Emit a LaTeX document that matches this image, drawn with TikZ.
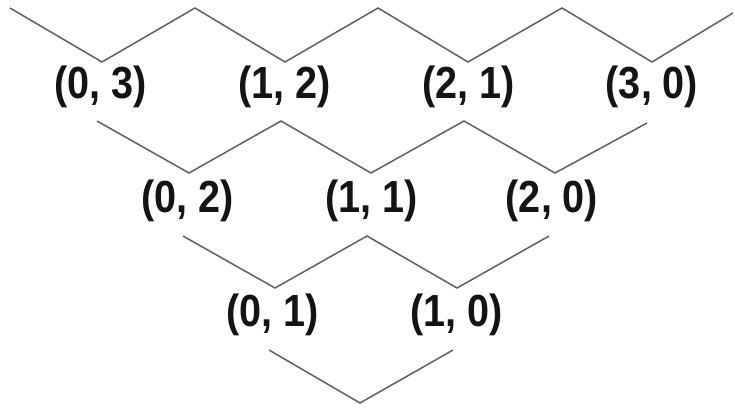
\documentclass[tikz,border=0pt]{standalone}
\usepackage{fontspec}
\setmainfont{Liberation Sans}
\newfontfamily\labfont{Liberation Sans}[FakeStretch=0.88]
\begin{document}
\begin{tikzpicture}[x=1pt,y=-1pt,
  lab/.style={inner sep=0pt, font=\labfont\bfseries\fontsize{45}{50}\selectfont, text={rgb,255:red,20;green,20;blue,20}},
  edge/.style={draw={rgb,255:red,95;green,95;blue,95}, line width=1.5pt, line join=miter}]
\useasboundingbox (0,0) rectangle (735,407);
% labels
\node[lab] (n03) at (101,87) {(0, 3)};
\node[lab] (n12) at (285,87) {(1, 2)};
\node[lab] (n21) at (469,87) {(2, 1)};
\node[lab] (n30) at (652,87) {(3, 0)};
\node[lab] (n02) at (188,201) {(0, 2)};
\node[lab] (n11) at (372,201) {(1, 1)};
\node[lab] (n20) at (552,201) {(2, 0)};
\node[lab] (n01) at (273,315) {(0, 1)};
\node[lab] (n10) at (457,315) {(1, 0)};
% free top ends
\coordinate (p0) at (10,8);
\coordinate (p1) at (195,8);
\coordinate (p2) at (378,8);
\coordinate (p3) at (562,8);
\coordinate (p4) at (733,13);
% points above labels
\coordinate (a03) at (102,62);
\coordinate (a12) at (285,62);
\coordinate (a21) at (468,62);
\coordinate (a30) at (652,62);
\coordinate (a02) at (189,173);
\coordinate (a11) at (371,173);
\coordinate (a20) at (555,173);
\coordinate (a01) at (275,288);
\coordinate (a10) at (457,288);
\coordinate (a00) at (360,403);
% points below labels
\coordinate (b03) at (97,121);
\coordinate (b12) at (281,121);
\coordinate (b21) at (464,121);
\coordinate (b30) at (647,123);
\coordinate (b02) at (183,236);
\coordinate (b11) at (367,236);
\coordinate (b20) at (549,236);
\coordinate (b01) at (269,350);
\coordinate (b10) at (453,350);
% connectors
\draw[edge] (p0) -- (a03) -- (p1) -- (a12) -- (p2) -- (a21) -- (p3) -- (a30) -- (p4);
\draw[edge] (b03) -- (a02) -- (b12) -- (a11) -- (b21) -- (a20) -- (b30);
\draw[edge] (b02) -- (a01) -- (b11) -- (a10) -- (b20);
\draw[edge] (b01) -- (a00) -- (b10);
\end{tikzpicture}
\end{document}
